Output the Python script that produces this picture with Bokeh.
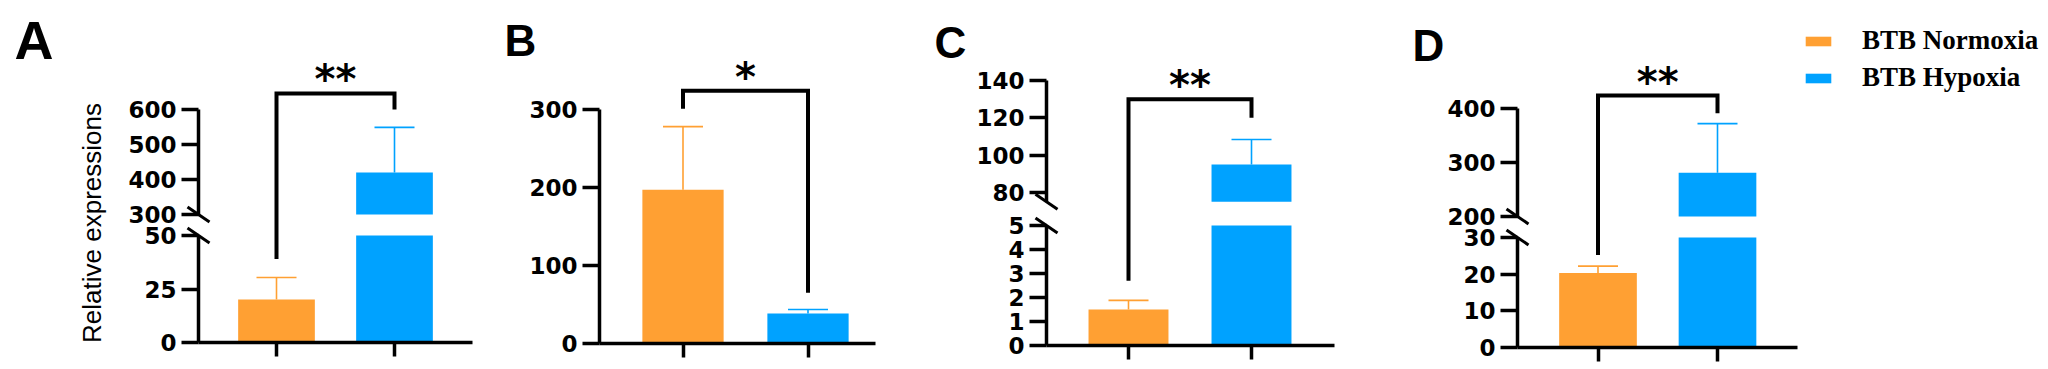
import math
from bokeh.plotting import figure
from bokeh.models import (Range1d, LinearAxis, FixedTicker, ColumnDataSource, Whisker,
                          TeeHead, Label, Legend, LegendItem)
from bokeh.embed import file_html
from bokeh.resources import INLINE

# ---------------- data ----------------
groups = ["BTB Normoxia", "BTB Hypoxia"]
panel_names = ["A", "B", "C", "D"]
y_title = "Relative expressions"

mean_A = [20.1, 420.0]
err_A = [10.3, 129.0]
mean_B = [197.0, 38.5]
err_B = [81.0, 5.0]
mean_C = [1.5, 95.0]
err_C = [0.38, 13.4]
mean_D = [20.3, 281.0]
err_D = [1.9, 91.0]

ticks_lo_A = [0, 25, 50]
ticks_hi_A = [300, 400, 500, 600]
ticks_B = [0, 100, 200, 300]
ticks_lo_C = [0, 1, 2, 3, 4, 5]
ticks_hi_C = [80, 100, 120, 140]
ticks_lo_D = [0, 10, 20, 30]
ticks_hi_D = [200, 300, 400]

# axis breaks: (top of lower segment, bottom of upper segment)
break_A = (50, 300)
break_C = (5, 75)
break_D = (30, 200)

stars = ["**", "*", "**", "**"]
# significance brackets: (bar height, left leg end, right leg end), axis units
bracket_A = (646, 39, 600)
bracket_B = (324, 301, 65)
bracket_C = (130, 2.7, 120)
bracket_D = (424, 25.2, 391)

# ---------------- layout / style ----------------
W, H = 2048, 369
OX, OY = 0, 0
ORANGE = "#FFA033"
BLUE = "#00A2FF"
colors = [ORANGE, BLUE]
BAR_W = 0.65

layout = {
    "A": dict(cx=(276, 394), axis_x=198, x_end=472, lo_px=(342, 235), hi_px=(214, 109),
              letter=(14, 39, "54px")),
    "B": dict(cx=(682.5, 807.5), axis_x=599, x_end=875, lo_px=(343, 109), hi_px=None,
              letter=(504, 40, "44px")),
    "C": dict(cx=(1128, 1251), axis_x=1046, x_end=1334, lo_px=(345, 225), hi_px=(192, 80),
              letter=(934, 42, "44px")),
    "D": dict(cx=(1597.5, 1717), axis_x=1517, x_end=1797, lo_px=(347, 237), hi_px=(216, 108),
              letter=(1412, 45, "44px")),
}

panels = {
    "A": dict(means=mean_A, errs=err_A, lo=ticks_lo_A, hi=ticks_hi_A, brk=break_A,
              bracket=bracket_A, star=stars[0]),
    "B": dict(means=mean_B, errs=err_B, lo=ticks_B, hi=None, brk=None,
              bracket=bracket_B, star=stars[1]),
    "C": dict(means=mean_C, errs=err_C, lo=ticks_lo_C, hi=ticks_hi_C, brk=break_C,
              bracket=bracket_C, star=stars[2]),
    "D": dict(means=mean_D, errs=err_D, lo=ticks_lo_D, hi=ticks_hi_D, brk=break_D,
              bracket=bracket_D, star=stars[3]),
}


def lin_range(v0, p0, v1, p1, a, b):
    k = (v1 - v0) / (p1 - p0)
    return Range1d(start=v0 + (a - p0) * k, end=v0 + (b - p0) * k)


def mapper(v0, p0, v1, p1):
    k = (p1 - p0) / (v1 - v0)
    return (lambda v: p0 + (v - v0) * k), (lambda px: v0 + (px - p0) / k)


p = figure(width=W, height=H, x_range=Range1d(OX, OX + W), y_range=Range1d(OY + H, OY),
           x_axis_type=None, y_axis_type=None, toolbar_location=None,
           output_backend="svg", min_border=0, outline_line_color=None,
           background_fill_color="white", border_fill_color="white")

extra_x, extra_y = {}, {}
axis_style = dict(axis_line_width=3.5, axis_line_color="black",
                  major_tick_line_width=3.5, major_tick_line_color="black",
                  major_tick_in=0, minor_tick_in=0, minor_tick_out=0,
                  major_label_text_font="DejaVu Sans", major_label_text_font_style="bold",
                  major_label_text_font_size="23px", major_label_text_color="black",
                  major_label_standoff=5)
legend_renderer = None

for key in panel_names:
    d = panels[key]
    L = layout[key]
    xname = "x" + key
    cx0, cx1 = L["cx"]
    xs = list(range(len(groups)))
    extra_x[xname] = lin_range(xs[0], cx0, xs[1], cx1, OX, OX + W)
    kx = (xs[1] - xs[0]) / (cx1 - cx0)
    ax_loc = (L["axis_x"] - cx0) * kx
    x_end = (L["x_end"] - cx0) * kx

    segs = {}
    lo_t = d["lo"]
    if d["brk"] is None:
        segs["lo"] = dict(ticks=lo_t, bounds=(lo_t[0], lo_t[-1]), px=L["lo_px"],
                          floor=0, cap=math.inf)
    else:
        segs["lo"] = dict(ticks=lo_t, bounds=(lo_t[0], d["brk"][0]), px=L["lo_px"],
                          floor=0, cap=d["brk"][0])
        hi_t = d["hi"]
        segs["hi"] = dict(ticks=hi_t, bounds=(d["brk"][1], hi_t[-1]), px=L["hi_px"],
                          floor=d["brk"][1], cap=math.inf)

    for sname, s in segs.items():
        yname = sname + key
        t = s["ticks"]
        extra_y[yname] = lin_range(t[0], s["px"][0], t[-1], s["px"][1], OY + H, OY)
        s["map"], s["inv"] = mapper(t[0], s["px"][0], t[-1], s["px"][1])
        s["ky"] = (t[-1] - t[0]) / (s["px"][0] - s["px"][1])
        s["yname"] = yname

        # bars (part of each bar that falls inside this segment)
        bx, btop, bbot, bcol = [], [], [], []
        for i, m in enumerate(d["means"]):
            if m > s["floor"]:
                bx.append(xs[i]); btop.append(min(m, s["cap"])); bbot.append(s["floor"])
                bcol.append(colors[i])
        src = ColumnDataSource(dict(x=bx, top=btop, bottom=bbot, color=bcol))
        r = p.vbar(x="x", top="top", bottom="bottom", width=BAR_W, fill_color="color",
                   line_color=None, source=src, x_range_name=xname, y_range_name=yname)
        if key == "B":
            legend_renderer = r

        # y axis of this segment
        yax = LinearAxis(x_range_name=xname, y_range_name=yname, fixed_location=ax_loc,
                         bounds=s["bounds"], ticker=FixedTicker(ticks=t),
                         major_tick_out=17, **axis_style)
        p.add_layout(yax, "left")

    # error bars (upper only)
    for i, (m, e) in enumerate(zip(d["means"], d["errs"])):
        sname = "lo" if (d["brk"] is None or m <= d["brk"][0]) else "hi"
        src = ColumnDataSource(dict(base=[xs[i]], lower=[m], upper=[m + e]))
        wk = Whisker(base="base", lower="lower", upper="upper", source=src,
                     dimension="height", line_color=colors[i], line_width=1.6,
                     lower_head=None,
                     upper_head=TeeHead(size=40, line_color=colors[i], line_width=1.6),
                     x_range_name=xname, y_range_name=segs[sname]["yname"])
        p.add_layout(wk)

    # x axis (no labels)
    lo = segs["lo"]
    xax = LinearAxis(x_range_name=xname, y_range_name=lo["yname"], fixed_location=0,
                     bounds=(ax_loc, x_end), ticker=FixedTicker(ticks=xs),
                     major_label_overrides={x: "" for x in xs},
                     major_tick_out=14, **axis_style)
    p.add_layout(xax, "below")

    # axis break marks
    if d["brk"] is not None:
        for sname, yv in (("lo", d["brk"][0]), ("hi", d["brk"][1])):
            s = segs[sname]
            p.segment(x0=[ax_loc - 11 * kx], y0=[yv + 7.5 * s["ky"]],
                      x1=[ax_loc + 11 * kx], y1=[yv - 7.5 * s["ky"]],
                      line_color="black", line_width=3,
                      x_range_name=xname, y_range_name=s["yname"])

    # significance bracket (drawn in the top segment)
    top_seg = segs["hi"] if "hi" in segs else segs["lo"]
    top, l_end, r_end = d["bracket"]

    def to_top(v):
        if "hi" in segs and v <= d["brk"][0]:
            return top_seg["inv"](segs["lo"]["map"](v))
        return v

    p.line(x=[xs[0], xs[0], xs[1], xs[1]], y=[to_top(l_end), top, top, to_top(r_end)],
           line_color="black", line_width=4, line_join="miter",
           x_range_name=xname, y_range_name=top_seg["yname"])
    p.add_layout(Label(x=(xs[0] + xs[1]) / 2, y=top, y_offset=14, text=d["star"],
                       text_align="center", text_baseline="alphabetic",
                       text_font="DejaVu Sans", text_font_style="bold",
                       text_font_size="40px", text_color="black",
                       x_range_name=xname, y_range_name=top_seg["yname"]))

    # panel letter
    lx, ly, lsize = L["letter"]
    p.add_layout(Label(x=lx, y=ly, text=key, text_align="left", text_baseline="alphabetic",
                       text_font="Liberation Sans", text_font_style="bold",
                       text_font_size=lsize, text_color="black"))

p.extra_x_ranges = extra_x
p.extra_y_ranges = extra_y

# y axis title of panel A
p.add_layout(Label(x=91, y=222.5, text=y_title, angle=math.pi / 2, text_align="center",
                   text_baseline="middle", text_font="Liberation Sans",
                   text_font_size="26px", text_color="black"))

legend = Legend(items=[LegendItem(label=groups[0], renderers=[legend_renderer], index=0),
                       LegendItem(label=groups[1], renderers=[legend_renderer], index=1)],
                location=(1802, 276), orientation="vertical", glyph_width=32,
                glyph_height=12, label_standoff=28, spacing=6, padding=0, margin=0,
                label_text_font="Liberation Serif", label_text_font_style="bold",
                label_text_font_size="27px", label_text_color="black",
                border_line_color=None, background_fill_alpha=0)
p.add_layout(legend)

open("out.html", "w").write(file_html(p, INLINE))
